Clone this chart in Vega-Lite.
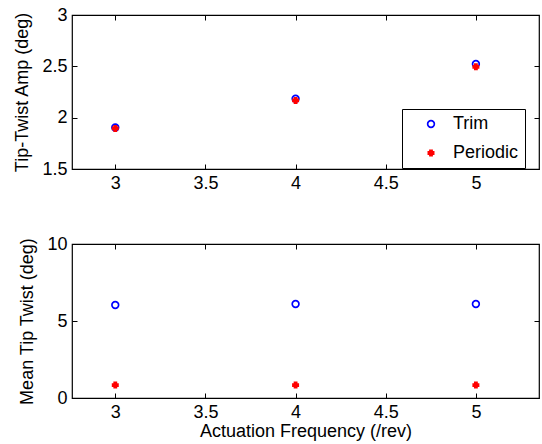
{
  "$schema": "https://vega.github.io/schema/vega-lite/v6.json",
  "autosize": {"type": "pad"},
  "padding": {"left": 13, "top": 5, "right": 0, "bottom": 0},
  "background": "white",
  "datasets": {
    "pts": [
      {"freq": 3, "series": "Trim", "amp": 1.905, "mean": 6.04},
      {"freq": 4, "series": "Trim", "amp": 2.185, "mean": 6.1},
      {"freq": 5, "series": "Trim", "amp": 2.522, "mean": 6.1},
      {"freq": 3, "series": "Periodic", "amp": 1.895, "mean": 0.84},
      {"freq": 4, "series": "Periodic", "amp": 2.168, "mean": 0.84},
      {"freq": 5, "series": "Periodic", "amp": 2.495, "mean": 0.84}
    ]
  },
  "data": {"name": "pts"},
  "spacing": 75,
  "bounds": "flush",
  "resolve": {"legend": {"stroke": "independent", "fill": "independent", "shape": "independent", "size": "independent"}},
  "vconcat": [
    {
      "width": 467,
      "height": 154,
      "layer": [
        {
          "mark": {"type": "point", "strokeWidth": 1.7, "opacity": 1},
          "encoding": {
            "x": {"field": "freq", "type": "quantitative", "scale": {"domain": [2.76, 5.35], "nice": false, "zero": false},
                  "axis": {"values": [3, 3.5, 4, 4.5, 5], "format": "~r", "title": null, "orient": "bottom"}},
            "y": {"field": "amp", "type": "quantitative", "scale": {"domain": [1.5, 3], "nice": false, "zero": false},
                  "axis": {"values": [1.5, 2, 2.5, 3], "format": "~r", "title": "Tip-Twist Amp (deg)", "orient": "left"}},
            "stroke": {"field": "series", "type": "nominal", "scale": {"domain": ["Trim", "Periodic"], "range": ["#0000ff", "#ff0000"]},
                       "legend": {"orient": "none", "legendX": 330, "legendY": 94, "title": null, "strokeColor": "black", "fillColor": "white",
                                  "padding": 6, "symbolOffset": 14, "labelOffset": 13, "rowPadding": 11, "labelFontSize": 18,
                                  "labelExpr": "datum.label + '\u00a0\u00a0\u00a0\u00a0\u00a0\u00a0'", "symbolStrokeWidth": 1.7}},
            "fill": {"field": "series", "type": "nominal", "scale": {"domain": ["Trim", "Periodic"], "range": ["transparent", "#ff0000"]}},
            "shape": {"field": "series", "type": "nominal", "scale": {"domain": ["Trim", "Periodic"], "range": ["circle", "cross"]}},
            "size": {"field": "series", "type": "nominal", "scale": {"domain": ["Trim", "Periodic"], "range": [45, 28]}}
          }
        },
        {
          "mark": {"type": "point", "opacity": 0},
          "encoding": {
            "x": {"field": "freq", "type": "quantitative", "axis": {"values": [3, 3.5, 4, 4.5, 5], "title": null, "orient": "top", "labels": false, "labelPadding": 0, "minExtent": 0, "maxExtent": 0}},
            "y": {"field": "amp", "type": "quantitative", "axis": {"values": [1.5, 2, 2.5, 3], "title": null, "orient": "right", "labels": false, "labelPadding": 0, "minExtent": 0, "maxExtent": 0}}
          }
        }
      ],
      "resolve": {"axis": {"x": "independent", "y": "independent"}}
    },
    {
      "width": 467,
      "height": 154,
      "layer": [
        {
          "mark": {"type": "point", "strokeWidth": 1.7, "opacity": 1},
          "encoding": {
            "x": {"field": "freq", "type": "quantitative", "scale": {"domain": [2.76, 5.35], "nice": false, "zero": false},
                  "axis": {"values": [3, 3.5, 4, 4.5, 5], "format": "~r", "title": "Actuation Frequency (/rev)", "orient": "bottom", "titlePadding": 1}},
            "y": {"field": "mean", "type": "quantitative", "scale": {"domain": [0, 10], "nice": false},
                  "axis": {"values": [0, 5, 10], "format": "~r", "title": "Mean Tip Twist (deg)", "orient": "left"}},
            "stroke": {"field": "series", "type": "nominal", "scale": {"domain": ["Trim", "Periodic"], "range": ["#0000ff", "#ff0000"]}, "legend": null},
            "fill": {"field": "series", "type": "nominal", "scale": {"domain": ["Trim", "Periodic"], "range": ["transparent", "#ff0000"]}, "legend": null},
            "shape": {"field": "series", "type": "nominal", "scale": {"domain": ["Trim", "Periodic"], "range": ["circle", "cross"]}, "legend": null},
            "size": {"field": "series", "type": "nominal", "scale": {"domain": ["Trim", "Periodic"], "range": [45, 28]}, "legend": null}
          }
        },
        {
          "mark": {"type": "point", "opacity": 0},
          "encoding": {
            "x": {"field": "freq", "type": "quantitative", "axis": {"values": [3, 3.5, 4, 4.5, 5], "title": null, "orient": "top", "labels": false, "labelPadding": 0, "minExtent": 0, "maxExtent": 0}},
            "y": {"field": "mean", "type": "quantitative", "axis": {"values": [0, 5, 10], "title": null, "orient": "right", "labels": false, "labelPadding": 0, "minExtent": 0, "maxExtent": 0}}
          }
        }
      ],
      "resolve": {"axis": {"x": "independent", "y": "independent"}}
    }
  ],
  "config": {
    "view": {"stroke": "black", "strokeWidth": 1.2},
    "font": "Liberation Sans",
    "axis": {
      "domain": false,
      "grid": false,
      "ticks": true,
      "tickSize": -5,
      "tickColor": "black",
      "tickWidth": 1,
      "labelFont": "Liberation Sans",
      "labelFontSize": 18,
      "labelColor": "black",
      "labelPadding": 10,
      "titleFont": "Liberation Sans",
      "titleFontSize": 18,
      "titleFontWeight": "normal",
      "titleColor": "black",
      "titlePadding": 10
    },
    "legend": {"labelFont": "Liberation Sans", "labelColor": "black"}
  }
}
